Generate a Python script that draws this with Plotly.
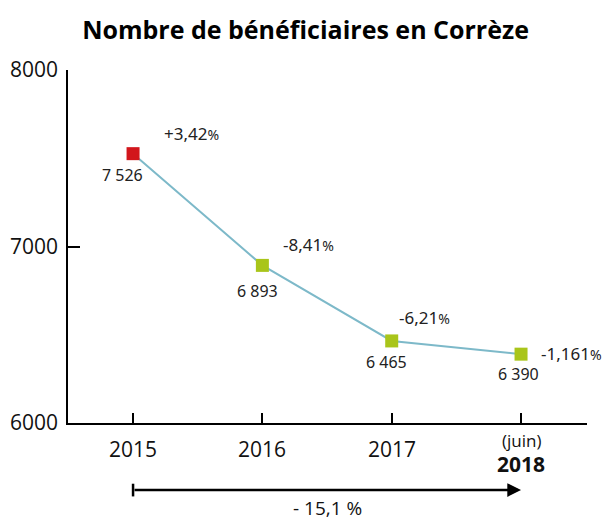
import plotly.graph_objects as go

# ---- data ----
years = ["2015", "2016", "2017", "2018"]
year_notes = ["", "", "", "(juin)"]
values = [7526, 6893, 6465, 6390]
value_labels = ["7 526", "6 893", "6 465", "6 390"]
changes = ["+3,42", "-8,41", "-6,21", "-1,161"]
total_change = "- 15,1 %"
y_ticks = [6000, 7000, 8000]

# ---- styles ----
RED = "#d2161c"
GREEN = "#a9c51a"
LINE = "#7db9c9"
marker_colors = [RED, GREEN, GREEN, GREEN]
val_shift = [(-11, -21), (-5, -26), (-5, -21), (-3, -20)]
pct_shift = [(58, 20), (46, 21), (33, 23), (50, 1)]
NUMFONT = "Noto Sans"
AXFONT = "Open Sans"

xi = list(range(len(years)))

fig = go.Figure()
fig.add_trace(go.Scatter(
    x=xi, y=values, mode="lines+markers",
    line=dict(color=LINE, width=2),
    marker=dict(symbol="square", size=13, color=marker_colors, line=dict(width=0)),
    hoverinfo="skip", showlegend=False, cliponaxis=False,
))

ann = []
for i, (v, lab, ch) in enumerate(zip(values, value_labels, changes)):
    ann.append(dict(x=xi[i], y=v, xref="x", yref="y", text=lab, showarrow=False,
                    xshift=val_shift[i][0], yshift=val_shift[i][1],
                    font=dict(family=NUMFONT, size=16, color="#222")))
    ann.append(dict(x=xi[i], y=v, xref="x", yref="y",
                    text=ch + "<span style='font-size:14px'>%</span>", showarrow=False,
                    xshift=pct_shift[i][0], yshift=pct_shift[i][1],
                    font=dict(family=NUMFONT, size=17, color="#222")))

# x tick labels
for i, (yr, note) in enumerate(zip(years, year_notes)):
    if note:
        ann.append(dict(x=xi[i], y=-0.05, xref="x", yref="paper", text=note, showarrow=False,
                        font=dict(family=AXFONT, size=17, color="#111"), yanchor="middle"))
        ann.append(dict(x=xi[i], y=-0.117, xref="x", yref="paper", text="<b>" + yr + "</b>", showarrow=False,
                        font=dict(family=AXFONT, size=21, color="#111"), yanchor="middle"))
    else:
        ann.append(dict(x=xi[i], y=-0.074, xref="x", yref="paper", text=yr, showarrow=False,
                        font=dict(family=AXFONT, size=21, color="#111"), yanchor="middle"))

# total change arrow
ARROW_Y = -0.19
ann.append(dict(x=xi[-1], y=ARROW_Y, xref="x", yref="paper", ax=xi[0], ay=0, axref="x", ayref="pixel",
                showarrow=True, arrowhead=2, arrowsize=1.1, arrowwidth=2.5, arrowcolor="#000",
                text=""))
ann.append(dict(x=(xi[0] + xi[-1]) / 2, y=-0.24, xref="x", yref="paper", text=total_change,
                showarrow=False, borderpad=0, font=dict(family=AXFONT, size=19, color="#111"),
                yanchor="middle"))

shapes = [dict(type="line", xref="x", yref="paper", x0=xi[0], x1=xi[0], y0=ARROW_Y + 0.018,
               y1=ARROW_Y - 0.018, line=dict(color="#000", width=2.5))]

fig.update_layout(
    width=605, height=521,
    margin=dict(l=68, r=18, t=70, b=98),
    paper_bgcolor="white", plot_bgcolor="white",
    title=dict(text="<b>Nombre de bénéficiaires en Corrèze</b>", x=0.505, xanchor="center",
               y=0.942, yanchor="middle", font=dict(family="Open Sans", size=25, color="#000")),
    xaxis=dict(range=[-0.503, 3.51], tickvals=xi, showticklabels=False, ticks="inside", ticklen=10,
               tickwidth=1.5, tickcolor="#000", showline=True, linecolor="#000", linewidth=1.5,
               showgrid=False, zeroline=False, fixedrange=True),
    yaxis=dict(range=[6000, 8000], tickvals=y_ticks, ticks="inside", ticklen=12, tickwidth=1.5,
               tickcolor="#000", showline=True, linecolor="#000", linewidth=1.5, showgrid=False,
               zeroline=False, tickfont=dict(family=AXFONT, size=21, color="#111"), ticklabelstandoff=4,
               automargin=False, fixedrange=True),
    annotations=ann, shapes=shapes,
)
fig.write_html("out.html", config={"displayModeBar": False},
               post_script="document.body.style.margin='0';")
